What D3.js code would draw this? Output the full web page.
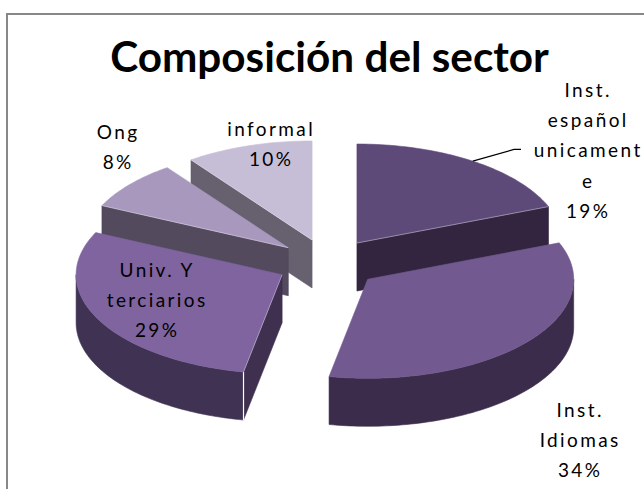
<!DOCTYPE html>
<html><head><meta charset="utf-8">
<script src="https://cdn.jsdelivr.net/npm/d3@7"></script>
<style>body{margin:0;background:#fff}svg{display:block}</style>
</head><body>
<svg id="chart" width="644" height="489"></svg>
<script>
// ---- data ----
const title = "Composición del sector";
const categories = ["Inst. español unicamente", "Inst. Idiomas", "Univ. Y terciarios", "Ong", "informal"];
const values = [19, 34, 29, 8, 10];
const labelLines = [["Inst.", "español", "unicament", "e"], ["Inst.", "Idiomas"], ["Univ. Y", "terciarios"], ["Ong"], ["informal"]];

// ---- style / layout ----
const topColors    = ["#5E4A78", "#725A90", "#7F64A0", "#A898BE", "#C6BDD7"];
const outerColors  = ["#33253F", "#3B2C4B", "#403252", "#534A5E", "#66606F"];
const radialColors = ["#33253F", "#3B2C4B", "#3F3050", "#534A5E", "#66606F"];
const labelPos = [[587, 97], [579, 417], [156, 277], [117, 139], [270, 136]]; // center x, first baseline
const lineH = 30.2;
const W = 644, H = 489;
const cx = 328, cy = 263.5, rx = 206, ry = 99, depth = 48, explode = 0.25;

const svg = d3.select("#chart");

// frame
svg.append("rect").attr("x", 7).attr("y", 14).attr("width", 700).attr("height", 600)
  .attr("fill", "none").attr("stroke", "#888").attr("stroke-width", 2);

// title
const t = svg.append("text").attr("x", 329.5).attr("y", 72).attr("text-anchor", "middle")
  .attr("font-family", "Lato, 'Open Sans', sans-serif").attr("font-weight", "bold")
  .attr("font-size", 40).attr("fill", "#000").text(title);
const tw = t.node().getComputedTextLength();
t.attr("font-size", 40 * 439 / tw);

// pie
const arcs = d3.pie().sort(null).value(d => d)(values);
const ang = d3.scaleLinear().domain([0, 1]);
const line = d3.line();

function proj(ax, ay, th, z) { return [ax + rx * Math.sin(th), ay - ry * Math.cos(th) + (z || 0)]; }
function rimPts(ax, ay, a0, a1, z) {
  const n = Math.max(2, Math.ceil((a1 - a0) / 0.02));
  ang.range([a0, a1]);
  return d3.range(n + 1).map(i => proj(ax, ay, ang(i / n), z));
}

const slices = arcs.map((a, i) => {
  const mid = (a.startAngle + a.endAngle) / 2;
  const ax = cx + explode * rx * Math.sin(mid), ay = cy - explode * ry * Math.cos(mid);
  return { i, a, mid, ax, ay };
});
const order = slices.slice().sort((p, q) => Math.cos(q.mid) - Math.cos(p.mid));

order.forEach(s => {
  const { i, a, ax, ay } = s;
  const g = svg.append("g");
  const a0 = a.startAngle, a1 = a.endAngle;
  const faces = [];
  if (Math.sin(a0) < -1e-6) faces.push(a0);
  if (Math.sin(a1) > 1e-6) faces.push(a1);
  faces.forEach(th => {
    const p = [[ax, ay], proj(ax, ay, th), proj(ax, ay, th, depth), [ax, ay + depth]];
    g.append("path").attr("d", line(p) + "Z").attr("fill", radialColors[i])
      .attr("stroke", radialColors[i]).attr("stroke-width", 0.6);
  });
  const s0 = Math.max(a0, Math.PI / 2), s1 = Math.min(a1, 3 * Math.PI / 2);
  if (s1 > s0) {
    const p = rimPts(ax, ay, s0, s1).concat(rimPts(ax, ay, s0, s1, depth).reverse());
    g.append("path").attr("d", line(p) + "Z").attr("fill", outerColors[i])
      .attr("stroke", outerColors[i]).attr("stroke-width", 0.6);
    faces.forEach(th => {
      if (th >= s0 - 1e-6 && th <= s1 + 1e-6) {
        g.append("path").attr("d", line([proj(ax, ay, th), proj(ax, ay, th, depth)]))
          .attr("stroke", "#fff").attr("stroke-width", 1.2).attr("fill", "none");
      }
    });
  }
  const tp = [[ax, ay]].concat(rimPts(ax, ay, a0, a1));
  g.append("path").attr("d", line(tp) + "Z").attr("fill", topColors[i])
    .attr("stroke", topColors[i]).attr("stroke-width", 0.6);
  faces.forEach(th => {
    g.append("path").attr("d", line([[ax, ay], proj(ax, ay, th)]))
      .attr("stroke", "#fff").attr("stroke-opacity", 0.35).attr("stroke-width", 1).attr("fill", "none");
  });
});

// leader line for first slice
{
  const s = slices[0];
  const p0 = proj(s.ax, s.ay, s.mid);
  const lx = labelPos[0][0], ly = labelPos[0][1] + 2 * lineH - 8;
  svg.append("path").attr("d", line([p0, [lx - 73, ly], [lx - 66, ly]]))
    .attr("stroke", "#000").attr("stroke-width", 1.2).attr("fill", "none");
}

// labels
slices.forEach(s => {
  const i = s.i;
  const lines = labelLines[i].concat([values[i] + "%"]);
  const txt = svg.append("text").attr("text-anchor", "middle")
    .attr("font-family", "Lato, 'Open Sans', sans-serif").attr("font-size", 19)
    .attr("letter-spacing", "2.4px").attr("fill", "#000");
  lines.forEach((l, k) => {
    txt.append("tspan").attr("x", labelPos[i][0] + 1.2).attr("y", labelPos[i][1] + k * lineH).text(l);
  });
});
</script>
</body></html>
